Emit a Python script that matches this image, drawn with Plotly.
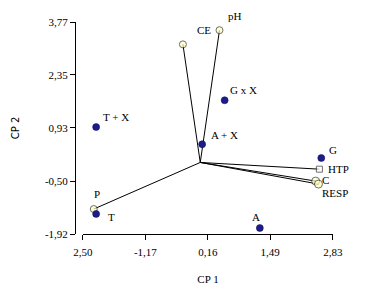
import plotly.graph_objects as go

# Observations (blue dots)
obs_names = ["T + X", "T", "A + X", "G x X", "G", "A"]
obs_x = [-2.22, -2.22, 0.04, 0.52, 2.58, 1.27]
obs_y = [0.95, -1.38, 0.49, 1.67, 0.12, -1.76]
obs_dx = [20, 15, 22, 19, 12, -4]
obs_dy = [10, -3, 9, 10, 8, 11]

# Variables (vectors from origin)
var_names = ["P", "CE", "pH", "HTP", "C", "RESP"]
var_x = [-2.27, -0.37, 0.41, 2.54, 2.46, 2.52]
var_y = [-1.25, 3.17, 3.55, -0.18, -0.50, -0.58]
var_dx = [3, 21, 16, 19, 10, 17]
var_dy = [15, 14, 14, 0, 1, -9]
var_symbol = ["circle", "circle", "circle", "square", "circle", "circle"]
var_color = ["#ffffc0", "#ffffc0", "#ffffc0", "#ffffff", "#ffffc0", "#ffffc0"]
var_size = [7, 7, 7, 6, 8, 8]

x_ticks = [-2.50, -1.17, 0.16, 1.49, 2.83]
x_ticktext = ["2,50", "-1,17", "0,16", "1,49", "2,83"]
y_ticks = [-1.92, -0.50, 0.93, 2.35, 3.77]
y_ticktext = ["-1,92", "-0,50", "0,93", "2,35", "3,77"]

FONT = "Times New Roman, Liberation Serif, serif"

fig = go.Figure()

for vx, vy in zip(var_x, var_y):
    fig.add_trace(go.Scatter(x=[0, vx], y=[0, vy], mode="lines",
                             line=dict(color="black", width=1),
                             showlegend=False, hoverinfo="skip"))

fig.add_trace(go.Scatter(x=var_x, y=var_y, mode="markers",
                         marker=dict(symbol=var_symbol, color=var_color, size=var_size,
                                     line=dict(color="#333333", width=1)),
                         showlegend=False))

fig.add_trace(go.Scatter(x=obs_x, y=obs_y, mode="markers",
                         marker=dict(color="#1c1c8c", size=7,
                                     line=dict(color="#0a0a50", width=0.5)),
                         showlegend=False))

for n, x, y, dx, dy in zip(obs_names + var_names, obs_x + var_x, obs_y + var_y,
                           obs_dx + var_dx, obs_dy + var_dy):
    fig.add_annotation(x=x, y=y, text=n, showarrow=False, xshift=dx, yshift=dy,
                       font=dict(family=FONT, size=11, color="black"))

fig.update_layout(
    width=368, height=291,
    margin=dict(l=75, r=35, t=22, b=57),
    paper_bgcolor="white", plot_bgcolor="white",
    font=dict(family=FONT, size=11, color="black"),
    xaxis=dict(range=[-2.5, 2.83], domain=[0.031, 1], tickvals=x_ticks, ticktext=x_ticktext,
               showgrid=False, zeroline=False, showline=True, linecolor="black", linewidth=1,
               ticks="outside", ticklen=5, tickcolor="black", ticklabelstandoff=3,
               automargin=False,
               title=dict(text="CP 1", standoff=18, font=dict(family=FONT, size=11))),
    yaxis=dict(range=[-1.92, 3.77], anchor="free", position=0, tickvals=y_ticks, ticktext=y_ticktext,
               showgrid=False, zeroline=False, showline=True, linecolor="black", linewidth=1,
               ticks="outside", ticklen=5, tickcolor="black", automargin=False,
               title=dict(text="CP 2", standoff=22, font=dict(family="DejaVu Sans", size=10))),
)

fig.write_html("out.html")
